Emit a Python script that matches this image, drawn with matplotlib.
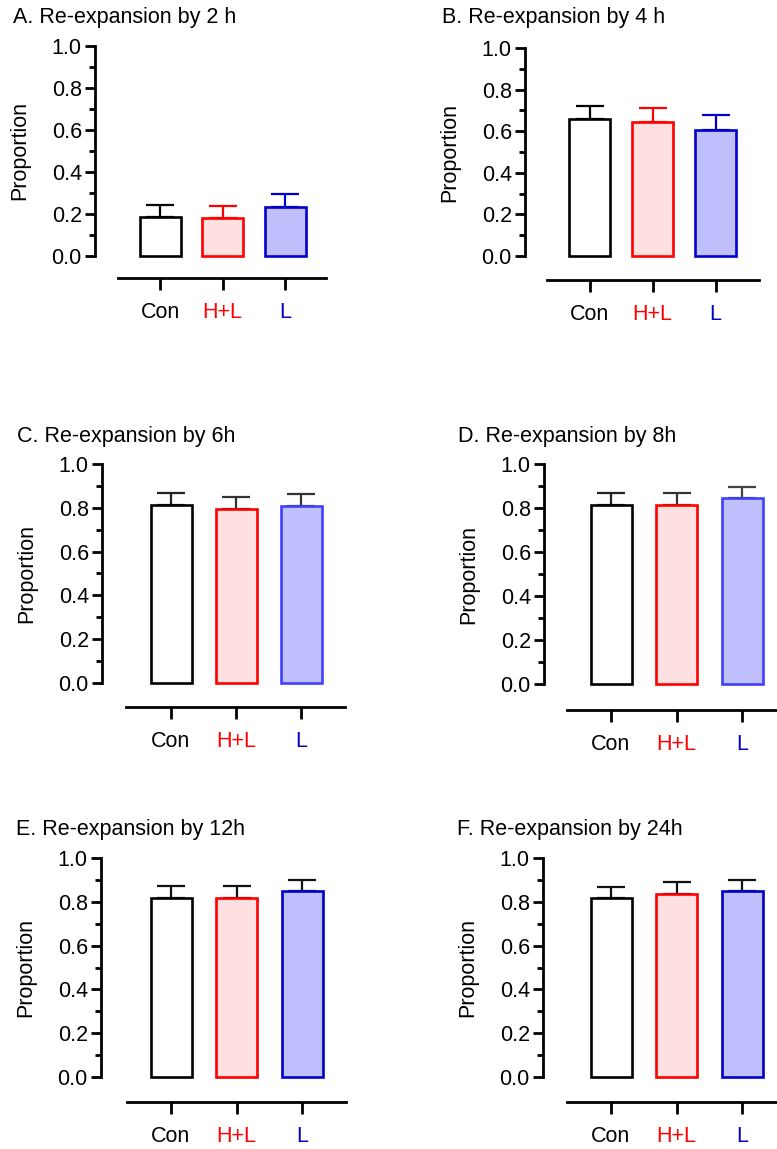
import matplotlib
matplotlib.use("Agg")
import matplotlib.pyplot as plt
from matplotlib.ticker import MultipleLocator

plt.rcParams['font.family'] = ['Liberation Sans', 'DejaVu Sans']

W, H = 777, 1149
DPI = 100
PT = 72.0 / DPI  # points per pixel

groups = ["Con", "H+L", "L"]

titles = ["A. Re-expansion by 2 h", "B. Re-expansion by 4 h",
          "C. Re-expansion by 6h", "D. Re-expansion by 8h",
          "E. Re-expansion by 12h", "F. Re-expansion by 24h"]

# mean proportion per group (Con, H+L, L) and the upper end of the error bar
means_A = [0.186, 0.181, 0.235]
upper_A = [0.243, 0.238, 0.297]
means_B = [0.657, 0.642, 0.607]
upper_B = [0.720, 0.710, 0.677]
means_C = [0.812, 0.794, 0.808]
upper_C = [0.866, 0.850, 0.862]
means_D = [0.813, 0.813, 0.844]
upper_D = [0.866, 0.868, 0.895]
means_E = [0.818, 0.818, 0.851]
upper_E = [0.870, 0.873, 0.900]
means_F = [0.817, 0.836, 0.850]
upper_F = [0.868, 0.890, 0.898]

all_means = [means_A, means_B, means_C, means_D, means_E, means_F]
all_upper = [upper_A, upper_B, upper_C, upper_D, upper_E, upper_F]

label_colors = ["#000000", "#FF0000", "#0000C8"]
fill_colors = ["#FFFFFF", "#FFE0E0", "#C0C0FF"]

# panel geometry in pixels: spine x, y of 1.0, y of 0.0, first bar offset, bar spacing,
# x-axis start / end offsets from the spine, x-axis drop below zero
panels = [
    dict(sx=95, y1=46, y0=256, c0=65, sp=62.5, xa0=23, xa1=231, drop=22),
    dict(sx=525, y1=48, y0=256, c0=64.5, sp=63, xa0=22, xa1=234, drop=24),
    dict(sx=102, y1=464, y0=683, c0=69, sp=65, xa0=24, xa1=243, drop=24),
    dict(sx=544, y1=464, y0=684, c0=67, sp=65.5, xa0=23, xa1=233, drop=26),
    dict(sx=101, y1=858, y0=1077, c0=70, sp=65.5, xa0=26, xa1=245, drop=25),
    dict(sx=543, y1=858, y0=1077, c0=68, sp=65.5, xa0=24, xa1=234, drop=25),
]
title_pos = [(13, 23), (442, 23), (17, 442), (458, 442), (16, 835), (457, 835)]
edge_sets = [
    ["#000000", "#FF0000", "#0000C8"],
    ["#000000", "#FF0000", "#0000C8"],
    ["#000000", "#FF0000", "#4040FF"],
    ["#000000", "#FF0000", "#4040FF"],
    ["#000000", "#FF0000", "#0000C8"],
    ["#000000", "#FF0000", "#0000C8"],
]
err_sets = [
    ["#000000", "#FF0000", "#0000C8"],
    ["#000000", "#FF0000", "#0000C8"],
    ["#222222", "#333333", "#333333"],
    ["#222222", "#333333", "#444444"],
    ["#111111", "#111111", "#111111"],
    ["#111111", "#111111", "#111111"],
]

FS = 15.5
fig = plt.figure(figsize=(W / DPI, H / DPI), dpi=DPI)

for i, p in enumerate(panels):
    left = p["sx"]
    right = p["sx"] + p["xa1"]
    ax = fig.add_axes([left / W, 1 - p["y0"] / H, (right - left) / W, (p["y0"] - p["y1"]) / H])
    sp = p["sp"]
    xmin = -p["c0"] / sp
    xmax = (p["xa1"] - p["c0"]) / sp
    ax.set_xlim(xmin, xmax)
    ax.set_ylim(0, 1.0)

    x = list(range(len(groups)))
    means = all_means[i]
    upper = all_upper[i]
    bw = 41 / sp
    for j in x:
        ax.bar(j, means[j], width=bw, color=fill_colors[j], edgecolor=edge_sets[i][j],
               linewidth=1.9, zorder=3, clip_on=False)
        ax.errorbar(j, means[j], yerr=[[0], [upper[j] - means[j]]], fmt='none',
                    ecolor=err_sets[i][j], elinewidth=1.6, capsize=10, capthick=1.6,
                    zorder=2, clip_on=False)

    for s in ["top", "right"]:
        ax.spines[s].set_visible(False)
    ax.spines["left"].set_linewidth(2.0)
    ax.spines["bottom"].set_linewidth(2.0)
    ax.spines["left"].set_bounds(0, 1.0)
    ax.spines["bottom"].set_position(("outward", p["drop"] * PT))
    ax.spines["bottom"].set_bounds(xmin + p["xa0"] / sp, xmax)

    ax.yaxis.set_major_locator(MultipleLocator(0.2))
    ax.yaxis.set_minor_locator(MultipleLocator(0.1))
    ax.set_yticks([0, 0.2, 0.4, 0.6, 0.8, 1.0])
    ax.set_yticklabels(["0.0", "0.2", "0.4", "0.6", "0.8", "1.0"])
    ax.tick_params(axis="y", which="major", length=7.5, width=2.0, labelsize=FS, pad=2)
    ax.tick_params(axis="y", which="minor", length=4, width=2.0)
    ax.set_xticks(x)
    ax.set_xticklabels(groups)
    ax.tick_params(axis="x", length=8.5, width=2.0, labelsize=FS, pad=9)
    for lab, c in zip(ax.get_xticklabels(), label_colors):
        lab.set_color(c)

    ax.set_ylabel("Proportion", fontsize=FS, labelpad=15)
    ax.patch.set_alpha(0)

    tx, ty = title_pos[i]
    fig.text(tx / W, 1 - ty / H, titles[i], fontsize=FS, ha="left", va="baseline")

fig.savefig("out.png", dpi=DPI)
